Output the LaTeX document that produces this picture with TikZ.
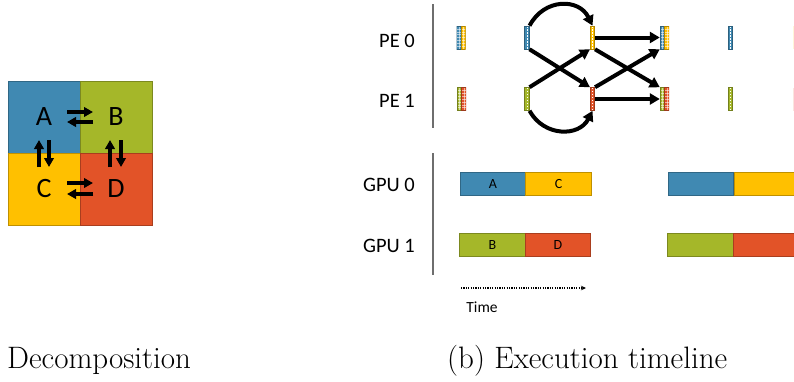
\documentclass[tikz,border=0pt]{standalone}
\usepackage{fontspec}
\newfontfamily\calfont{Carlito}
\usetikzlibrary{arrows.meta,calc}
\definecolor{blueC}{RGB}{64,137,178}
\definecolor{greenC}{RGB}{165,183,41}
\definecolor{yellowC}{RGB}{255,192,0}
\definecolor{redC}{RGB}{226,83,40}
\definecolor{axisgray}{RGB}{110,110,110}
\begin{document}
\begin{tikzpicture}[x=1pt,y=-1pt,
  cell/.style={minimum size=72pt, inner sep=0pt, fill=#1, draw=#1!75!black, line width=0.5pt,
    font=\calfont\fontsize{28}{30}\selectfont},
  garrow/.style={line width=3.5pt, -{Triangle[length=9pt,width=9.5pt]}},
  parrow/.style={line width=4pt, -{Triangle[length=10pt,width=11pt]}},
  lbl/.style={anchor=east, inner sep=0pt, font=\calfont\fontsize{20.5}{22}\selectfont},
  gbar/.style={minimum width=65.5pt, minimum height=22.5pt, inner sep=0pt, fill=#1,
    draw=#1!75!black, line width=0.6pt, font=\calfont\fontsize{14}{15}\selectfont},
  sbar/.style={minimum width=4.5pt, minimum height=23pt, inner sep=0pt, fill=#1,
    draw=#1!70!black, line width=0.6pt,
    path picture={\draw[white, line width=0.9pt, dash pattern=on 1.8pt off 1.2pt]
      (path picture bounding box.north) -- (path picture bounding box.south);}},
  pbar/.style 2 args={minimum width=9pt, minimum height=23pt, inner sep=0pt,
    path picture={
      \fill[#1] (path picture bounding box.south west) rectangle (path picture bounding box.north);
      \fill[#2] (path picture bounding box.south) rectangle (path picture bounding box.north east);
      \foreach \k in {1,...,7}
        \draw[white, opacity=0.55, line width=0.5pt]
          ($(path picture bounding box.north west)!\k/8!(path picture bounding box.south west)$) --
          ($(path picture bounding box.north east)!\k/8!(path picture bounding box.south east)$);
      \foreach \f in {0.25,0.75}
        \draw[white, opacity=0.55, line width=0.5pt]
          ($(path picture bounding box.north west)!\f!(path picture bounding box.north east)$) --
          ($(path picture bounding box.south west)!\f!(path picture bounding box.south east)$);
      \draw[#1!70!black, line width=1pt] (path picture bounding box.south west) rectangle (path picture bounding box.north);
      \draw[#2!70!black, line width=1pt] (path picture bounding box.south) rectangle (path picture bounding box.north east);
    }},
  captext/.style={anchor=base west, inner sep=0pt, font=\fontsize{31}{35}\selectfont}
]
\useasboundingbox (0,0) rectangle (794,381);

% ---------- (a) decomposition grid ----------
\node[cell=blueC]   (A) at (44,117)  {A};
\node[cell=greenC]  (B) at (116,117) {B};
\node[cell=yellowC] (C) at (44,189)  {C};
\node[cell=redC]    (D) at (116,189) {D};

\draw[garrow] (67,112) -- (93,112);
\draw[garrow] (93,122) -- (67,122);
\draw[garrow] (67,183) -- (93,183);
\draw[garrow] (93,194) -- (67,194);
\draw[garrow] (39,167) -- (39,140);
\draw[garrow] (49,140) -- (49,167);
\draw[garrow] (110,167) -- (110,140);
\draw[garrow] (121,140) -- (121,167);

% ---------- (b) timeline: PE rows ----------
\node[lbl] (pe0) at (415,41) {PE 0};
\node[lbl] (pe1) at (415,101) {PE 1};
\coordinate (vt1) at (433,4);
\coordinate (vb1) at (433,128);
\draw[axisgray, line width=1.2pt] (vt1) -- (vb1);

\node[pbar={blueC}{yellowC}] (p00) at (461,37.5) {};
\node[pbar={greenC}{redC}]   (p01) at (461.5,99) {};
\node[sbar=blueC]   (b0) at (527,37.5) {};
\node[sbar=greenC]  (g0) at (527,99) {};
\node[sbar=yellowC] (y0) at (592.5,37.5) {};
\node[sbar=redC]    (r0) at (592.5,99) {};
\node[pbar={blueC}{yellowC}] (p10) at (664.5,37.5) {};
\node[pbar={greenC}{redC}]   (p11) at (664.5,99) {};
\node[sbar=blueC]   (b1) at (730.5,37.5) {};
\node[sbar=greenC]  (g1) at (730.5,99) {};
\begin{scope}
  \clip (0,0) rectangle (794,381);
  \node[minimum width=4pt, minimum height=23pt, inner sep=0pt, fill=yellowC, opacity=0.15] (y1) at (795,37.5) {};
  \node[minimum width=4pt, minimum height=23pt, inner sep=0pt, fill=redC, opacity=0.15] (r1) at (795,99) {};
\end{scope}

\draw[parrow] (b0.north east) .. controls (544,-2) and (579,-2) .. (y0.north);
\draw[parrow] (g0.south east) .. controls (544,137) and (579,137) .. (r0.south);
\draw[parrow] (b0.south east) -- (r0.north west);
\draw[parrow] (g0.north east) -- (y0.south west);
\draw[parrow] (y0.east) -- (p10.west);
\draw[parrow] (y0.south east) -- (p11.north west);
\draw[parrow] (r0.east) -- (p11.west);
\draw[parrow] (r0.north east) -- (p10.south west);

% ---------- (b) timeline: GPU rows ----------
\node[lbl] (gpu0) at (415,185) {GPU 0};
\node[lbl] (gpu1) at (415,246) {GPU 1};
\coordinate (vt2) at (433,153);
\coordinate (vb2) at (433,275);
\draw[axisgray, line width=1.2pt] (vt2) -- (vb2);

\node[gbar=blueC]   (ga) at (493,184)   {A};
\node[gbar=yellowC] (gc) at (558.5,184) {C};
\node[gbar=greenC]  (gb) at (492.5,245) {B};
\node[gbar=redC]    (gd) at (558,245)   {D};
\begin{scope}
  \clip (0,0) rectangle (794,381);
  \node[gbar=blueC]   (ga2) at (701,184)   {};
  \node[gbar=yellowC] (gc2) at (767,184)   {};
  \node[gbar=greenC]  (gb2) at (700.5,245) {};
  \node[gbar=redC]    (gd2) at (766.5,245) {};
\end{scope}

\coordinate (ts) at (461,288);
\coordinate (te) at (586,288);
\draw[line width=1.1pt, dash pattern=on 1.2pt off 1.2pt, -{Stealth[length=5pt,width=4.5pt]}] (ts) -- (te);
\node[font=\calfont\fontsize{15.5}{17}\selectfont, inner sep=0pt] (time) at (482,307) {Time};

% ---------- captions ----------
\node[captext] (capa) at (7,368) {Decomposition};
\node[captext] (capb) at (447,368) {(b) Execution timeline};
\end{tikzpicture}
\end{document}
